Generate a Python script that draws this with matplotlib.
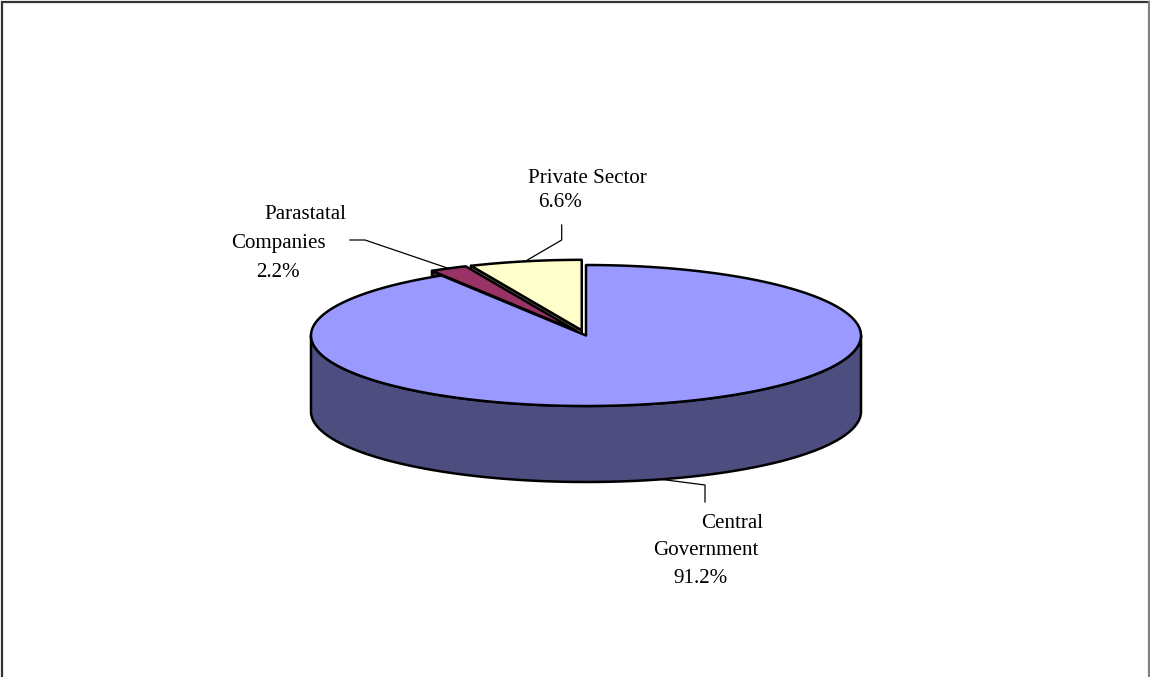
import numpy as np
import matplotlib.pyplot as plt
from matplotlib.patches import Polygon

# shares of total, in the order the slices run clockwise from 12 o'clock
sectors = ["Central Government", "Parastatal Companies", "Private Sector"]
shares = [91.2, 2.2, 6.6]
explode = [0.0, 0.075, 0.075]
top_colors = ["#9999FF", "#993366", "#FFFFCC"]
side_colors = ["#4D4D80", "#4D1A33", "#808066"]

# data labels: text lines, their centre x and baseline y
label_lines = [
    [("Central", 731.7, 528), ("Government", 705.5, 555), ("91.2%", 700.5, 583)],
    [("Parastatal", 305, 219), ("Companies", 278, 248), ("2.2%", 277.5, 277)],
    [("Private Sector", 587.2, 183), ("6.6%", 559.8, 206.7)],
]
# leader elbows (from label side towards the slice)
leader_paths = [
    [(705, 502), (705, 485)],
    [(350, 240), (365, 240)],
    [(561.7, 225), (561.7, 240)],
]

# pie geometry in pixel space
CX, CY = 586.0, 335.5
RX, RY = 275.0, 70.5
DEPTH = 76.0
EDGE = dict(edgecolor="black", linewidth=1.8, joinstyle="round")


def rim(phi, ox=0.0, oy=0.0, drop=0.0):
    r = np.radians(phi)
    return CX + ox + RX * np.sin(r), CY + oy - RY * np.cos(r) + drop


def arc(a1, a2, ox, oy, drop=0.0, n=120):
    phis = np.linspace(a1, a2, max(2, int(n * (a2 - a1) / 90) + 2))
    xs, ys = rim(phis, ox, oy, drop)
    return list(zip(xs, ys))


fig = plt.figure(figsize=(11.5, 6.77), dpi=100)
ax = fig.add_axes([0, 0, 1, 1])
ax.set_xlim(0, 1150)
ax.set_ylim(677, 0)
ax.axis("off")

total = sum(shares)
bounds = np.concatenate([[0], np.cumsum(shares) / total * 360])
anchors = []

# paint back slices first so the main body covers their hidden parts
for i in reversed(range(len(shares))):
    a1, a2 = bounds[i], bounds[i + 1]
    mid = (a1 + a2) / 2
    m = np.radians(mid)
    ox = explode[i] * RX * np.sin(m)
    oy = -explode[i] * RY * np.cos(m)
    apex = (CX + ox, CY + oy)
    apex_low = (CX + ox, CY + oy + DEPTH)

    # radial walls facing the viewer
    if np.sin(np.radians(a1)) < -1e-6:
        p = rim(a1, ox, oy)
        wall = [apex, p, (p[0], p[1] + DEPTH), apex_low]
        ax.add_patch(Polygon(wall, closed=True, facecolor=side_colors[i], **EDGE))
    if np.sin(np.radians(a2)) > 1e-6:
        p = rim(a2, ox, oy)
        wall = [apex, p, (p[0], p[1] + DEPTH), apex_low]
        ax.add_patch(Polygon(wall, closed=True, facecolor=side_colors[i], **EDGE))

    # outer rim wall on the front half
    f1, f2 = max(a1, 90), min(a2, 270)
    if f2 > f1:
        pts = arc(f1, f2, ox, oy) + arc(f1, f2, ox, oy, DEPTH)[::-1]
        ax.add_patch(Polygon(pts, closed=True, facecolor=side_colors[i], **EDGE))

    # top face
    face = [apex] + arc(a1, a2, ox, oy) + [apex]
    ax.add_patch(Polygon(face, closed=True, facecolor=top_colors[i], **EDGE))

    drop = DEPTH if np.cos(m) < 0 else 0.0
    anchors.append((i, rim(mid, ox, oy, drop)))

for i, anchor in anchors:
    path = leader_paths[i] + [anchor]
    xs, ys = zip(*path)
    ax.plot(xs, ys, color="black", linewidth=0.9)
    for text, x, y in label_lines[i]:
        ax.text(x, y, text, ha="center", va="baseline", fontsize=15.1,
                family=["Liberation Serif", "DejaVu Serif"], color="black")

# chart area frame: dark top/left, lighter right, open at the bottom
ax.plot([1.5, 1.5, 1148.5], [677, 1.5, 1.5], color="#333333", linewidth=1.6,
        solid_joinstyle="miter")
ax.plot([1148.5, 1148.5], [1.5, 677], color="#808080", linewidth=1.6)

fig.savefig("out.png", dpi=100)
